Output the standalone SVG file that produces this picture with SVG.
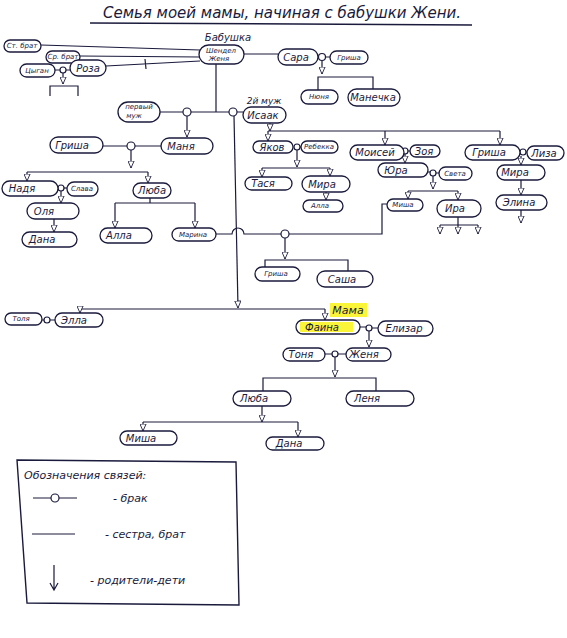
<svg xmlns="http://www.w3.org/2000/svg" width="567" height="638" viewBox="0 0 567 638">
<style>
.n{fill:#fff;stroke:#1a1a3c;stroke-width:1.3}
.t{font-family:"DejaVu Sans",sans-serif;font-style:italic;font-size:10px;fill:#1a1a3c;text-anchor:middle;dominant-baseline:central}
.s{font-size:7px}
.c{fill:none;stroke:#1a1a3c;stroke-width:1.2}
.a{fill:none;stroke:#1a1a3c;stroke-width:1.2;marker-end:url(#ar)}
.m{fill:#fff;stroke:#1a1a3c;stroke-width:1.2}
.lbl{font-family:"DejaVu Sans",sans-serif;font-style:italic;fill:#1a1a3c}
</style>
<defs>
<marker id="ar" viewBox="0 0 9 8" refX="8.5" refY="4" markerWidth="8" markerHeight="7" orient="auto" markerUnits="userSpaceOnUse">
<path d="M0.5,0.5 L8.5,4 L0.5,7.5 Z" fill="#fff" stroke="#1a1a3c" stroke-width="1"/>
</marker>
</defs>
<rect width="567" height="638" fill="#fff"/>
<text class="lbl" x="282" y="13" font-size="15" text-anchor="middle" dominant-baseline="central">Семья моей мамы, начиная с бабушки Жени.</text>
<path d="M90,23 L472,25" stroke="#1a1a3c" stroke-width="1.5" fill="none"/>

<g id="connectors">
<path class="c" d="M41,45 L200,50 M80,56 L200,57 M106,66 L200,61 M145,59 L146,69"/>
<path class="c" d="M55,70 H60 M66,70 H70"/><circle class="m" cx="63" cy="70" r="3"/>
<path class="a" d="M63,73 V84"/>
<path class="c" d="M50,96 V86 H78 V96"/>
<path class="c" d="M244,54 H278 M318,57 H319 M325,57 H330"/><circle class="m" cx="322" cy="57" r="3.5"/>
<path class="a" d="M322,61 V74"/>
<path class="c" d="M318,90 V77 H373 V89"/>
<path class="c" d="M216,64 V112 M160,112 H183 M191,112 H229 M237,112 H243"/>
<circle class="m" cx="187" cy="112" r="4"/><circle class="m" cx="233" cy="112" r="4"/>
<path class="a" d="M187,116 V137"/>
<path class="a" d="M234,116 L238,308"/>
<path class="c" d="M80,309 H325"/>
<path class="a" d="M80,309 V313"/><path class="a" d="M325,309 V320"/>
<path class="c" d="M103,146 H127 M135,146 H161"/><circle class="m" cx="131" cy="146" r="4"/>
<path class="a" d="M131,150 V168"/>
<path class="c" d="M27,172 H148"/><path class="a" d="M27,172 V181"/><path class="a" d="M148,172 V183"/>
<path class="c" d="M64,188 H67"/><circle class="m" cx="61" cy="188" r="3"/>
<path class="a" d="M61,191 V203"/>
<path class="a" d="M54,219 V232"/>
<path class="c" d="M150,198 V203 M115,203 H195"/><path class="a" d="M115,203 V228"/><path class="a" d="M195,203 V228"/>
<path class="c" d="M216,234 H232 A6,6 0 0 1 244,234 H281 M289,234 H382 V204 H387"/><circle class="m" cx="285" cy="234" r="4"/>
<path class="a" d="M285,238 V259"/>
<path class="c" d="M265,268 V260 H348 V271"/>
<path class="a" d="M270,123 V131"/>
<path class="c" d="M268,131 H500"/>
<path class="a" d="M268,131 V141"/><path class="a" d="M385,131 V145"/><path class="a" d="M500,131 V145"/>
<path class="c" d="M300,147 H301"/><circle class="m" cx="297" cy="147" r="3"/>
<path class="a" d="M297,150 V167"/>
<path class="c" d="M262,168 H330"/><path class="a" d="M262,168 V177"/><path class="a" d="M330,168 V176"/>
<path class="a" d="M326,192 V200"/>
<path class="c" d="M408,151 H410"/><circle class="m" cx="405" cy="151" r="3"/>
<path class="a" d="M405,154 V163"/>
<path class="c" d="M428,172 H430 M436,173 H439"/><circle class="m" cx="433" cy="173" r="3"/>
<path class="a" d="M433,176 V189"/>
<path class="c" d="M408,191 H458"/><path class="a" d="M408,191 V199"/><path class="a" d="M458,191 V200"/>
<path class="c" d="M458,217 V225 M440,225 H478"/>
<path class="a" d="M440,225 V234"/><path class="a" d="M458,225 V234"/><path class="a" d="M478,225 V234"/>
<path class="c" d="M526,152 H527"/><circle class="m" cx="523" cy="152" r="3"/>
<path class="a" d="M521,156 V165"/>
<path class="a" d="M521,180 V195"/>
<path class="a" d="M521,210 V223"/>
<path class="c" d="M42,320 H44 M50,320 H55"/><circle class="m" cx="47" cy="320" r="3"/>
<path class="c" d="M360,327 H366 M372,328 H378"/><circle class="m" cx="369" cy="328" r="3"/>
<path class="a" d="M369,331 V347"/>
<path class="c" d="M325,354 H332 M338,354 H346"/><circle class="m" cx="335" cy="354" r="3"/>
<path class="a" d="M335,357 V377"/>
<path class="c" d="M263,391 V378 H376 V391"/>
<path class="a" d="M262,406 V422"/>
<path class="c" d="M143,422 H298"/><path class="a" d="M143,422 V431"/><path class="a" d="M298,422 V437"/>
</g>

<g id="n-stbrat"><rect class="n" x="4" y="40" width="37" height="12" rx="6"/><text class="t s" x="22" y="46">Ст. брат</text></g>
<g id="n-srbrat"><rect class="n" x="46" y="51" width="34" height="12" rx="6"/><text class="t s" x="63" y="57">Ср. брат</text></g>
<g id="n-tsygan"><rect class="n" x="20" y="64" width="35" height="13" rx="6.5"/><text class="t s" x="37" y="70.5">Цыган</text></g>
<g id="n-roza"><rect class="n" x="70" y="60" width="36" height="16" rx="8"/><text class="t" x="88" y="68">Роза</text></g>
<g id="n-babushka"><text class="lbl" x="228" y="37" font-size="10" text-anchor="middle" dominant-baseline="central">Бабушка</text><rect class="n" x="199" y="45" width="45" height="19" rx="9.5"/><text class="t s" x="221" y="51" font-size="8">Шендел</text><text class="t s" x="219" y="59">Женя</text></g>
<g id="n-sara"><rect class="n" x="278" y="49" width="40" height="16" rx="8"/><text class="t" x="296" y="57">Сара</text></g>
<g id="n-grisha1"><rect class="n" x="330" y="51" width="38" height="13" rx="6.5"/><text class="t s" x="349" y="57.5" font-size="8">Гриша</text></g>
<g id="n-nyunya"><rect class="n" x="301" y="90" width="37" height="14" rx="7"/><text class="t s" x="319" y="97" font-size="8">Нюня</text></g>
<g id="n-manechka"><rect class="n" x="348" y="89" width="52" height="17" rx="8.5"/><text class="t" x="373" y="97.5">Манечка</text></g>
<g id="n-pervyi"><rect class="n" x="118" y="102" width="42" height="20" rx="10"/><text class="t s" x="139" y="107">первый</text><text class="t s" x="134" y="116">муж</text></g>
<g id="n-isaak"><text class="lbl" x="264" y="101" font-size="9" text-anchor="middle" dominant-baseline="central">2й муж</text><rect class="n" x="243" y="107" width="43" height="16" rx="8"/><text class="t" x="263" y="115">Исаак</text></g>
<g id="n-grisha2"><rect class="n" x="50" y="137" width="53" height="16" rx="8"/><text class="t" x="72" y="145">Гриша</text></g>
<g id="n-manya"><rect class="n" x="161" y="138" width="52" height="16" rx="8"/><text class="t" x="181" y="146">Маня</text></g>
<g id="n-nadya"><rect class="n" x="2" y="181" width="56" height="15" rx="7.5"/><text class="t" x="22" y="188.5">Надя</text></g>
<g id="n-slava"><rect class="n" x="67" y="182" width="31" height="14" rx="7"/><text class="t s" x="82" y="189" font-size="8">Слава</text></g>
<g id="n-lyuba1"><rect class="n" x="133" y="183" width="38" height="15" rx="7.5"/><text class="t" x="152" y="190.5">Люба</text></g>
<g id="n-olya"><rect class="n" x="27" y="203" width="52" height="16" rx="8"/><text class="t" x="44" y="211">Оля</text></g>
<g id="n-dana1"><rect class="n" x="22" y="232" width="55" height="15" rx="7.5"/><text class="t" x="42" y="239.5">Дана</text></g>
<g id="n-alla"><rect class="n" x="100" y="228" width="52" height="15" rx="7.5"/><text class="t" x="119" y="235.5">Алла</text></g>
<g id="n-marina"><rect class="n" x="172" y="228" width="44" height="13" rx="6.5"/><text class="t s" x="193" y="234.5" font-size="8.5">Марина</text></g>
<g id="n-yakov"><rect class="n" x="253" y="141" width="40" height="12" rx="6"/><text class="t" x="272" y="147">Яков</text></g>
<g id="n-rebekka"><rect class="n" x="301" y="141" width="37" height="12" rx="6"/><text class="t s" x="319" y="147">Ребекка</text></g>
<g id="n-tasya"><rect class="n" x="245" y="177" width="47" height="13" rx="6.5"/><text class="t" x="263" y="183.5">Тася</text></g>
<g id="n-mira1"><rect class="n" x="302" y="176" width="48" height="16" rx="8"/><text class="t" x="322" y="184">Мира</text></g>
<g id="n-alla2"><rect class="n" x="303" y="200" width="40" height="12" rx="6"/><text class="t s" x="320" y="206" font-size="8">Алла</text></g>
<g id="n-moisei"><rect class="n" x="350" y="145" width="54" height="15" rx="7.5"/><text class="t" x="375" y="152.5">Моисей</text></g>
<g id="n-zoya"><rect class="n" x="410" y="145" width="30" height="12" rx="6"/><text class="t" x="424" y="151">Зоя</text></g>
<g id="n-yura"><rect class="n" x="378" y="163" width="50" height="14" rx="7"/><text class="t" x="396" y="170">Юра</text></g>
<g id="n-sveta"><rect class="n" x="439" y="167" width="33" height="13" rx="6.5"/><text class="t s" x="455" y="173.5" font-size="8.5">Света</text></g>
<g id="n-misha1"><rect class="n" x="387" y="199" width="36" height="12" rx="6"/><text class="t s" x="403" y="205" font-size="8">Миша</text></g>
<g id="n-ira"><rect class="n" x="437" y="200" width="44" height="17" rx="8.5"/><text class="t" x="455" y="208.5">Ира</text></g>
<g id="n-grisha3"><rect class="n" x="465" y="145" width="55" height="15" rx="7.5"/><text class="t" x="489" y="152.5">Гриша</text></g>
<g id="n-liza"><rect class="n" x="527" y="146" width="37" height="14" rx="7"/><text class="t" x="544" y="153">Лиза</text></g>
<g id="n-mira2"><rect class="n" x="497" y="165" width="48" height="15" rx="7.5"/><text class="t" x="515" y="172.5">Мира</text></g>
<g id="n-elina"><rect class="n" x="496" y="195" width="51" height="15" rx="7.5"/><text class="t" x="519" y="202.5">Элина</text></g>
<g id="n-grisha4"><rect class="n" x="255" y="267" width="45" height="14" rx="7"/><text class="t s" x="276" y="274" font-size="8.5">Гриша</text></g>
<g id="n-sasha"><rect class="n" x="317" y="271" width="56" height="16" rx="8"/><text class="t" x="342" y="279">Саша</text></g>
<g id="n-tolya"><rect class="n" x="5" y="313" width="37" height="12" rx="6"/><text class="t s" x="21" y="319" font-size="8.5">Толя</text></g>
<g id="n-ella"><rect class="n" x="55" y="313" width="48" height="14" rx="7"/><text class="t" x="74" y="320">Элла</text></g>
<g id="n-faina"><rect x="330" y="303" width="37" height="14" fill="#fbf53a"/><text class="lbl" x="348" y="310" font-size="11" text-anchor="middle" dominant-baseline="central">Мама</text><rect class="n" x="296" y="320" width="64" height="14" rx="7"/><rect x="300" y="322" width="53" height="10" fill="#fbf53a"/><text class="t" x="322" y="327">Фаина</text></g>
<g id="n-elizar"><rect class="n" x="378" y="321" width="55" height="15" rx="7.5"/><text class="t" x="404" y="328.5">Елизар</text></g>
<g id="n-tonya"><rect class="n" x="283" y="348" width="42" height="13" rx="6.5"/><text class="t" x="301" y="354.5">Тоня</text></g>
<g id="n-zhenya"><rect class="n" x="346" y="348" width="45" height="13" rx="6.5"/><text class="t" x="364" y="354.5">Женя</text></g>
<g id="n-lyuba2"><rect class="n" x="233" y="391" width="58" height="15" rx="7.5"/><text class="t" x="254" y="398.5">Люба</text></g>
<g id="n-lenya"><rect class="n" x="346" y="391" width="68" height="15" rx="7.5"/><text class="t" x="367" y="398.5">Леня</text></g>
<g id="n-misha2"><rect class="n" x="120" y="431" width="57" height="14" rx="7"/><text class="t" x="141" y="438">Миша</text></g>
<g id="n-dana2"><rect class="n" x="266" y="437" width="58" height="13" rx="6.5"/><text class="t" x="289" y="443.5">Дана</text></g>

<g id="legend">
<path d="M17,460 L236,462 L239,605 L27,603 Z" fill="none" stroke="#1a1a3c" stroke-width="1.4"/>
<text class="lbl" x="24" y="475" font-size="11" dominant-baseline="central">Обозначения связей:</text>
<path class="c" d="M33,498 H51 M59,498 H77"/><circle class="m" cx="55" cy="498" r="4"/>
<text class="lbl" x="113" y="498" font-size="11" dominant-baseline="central">- брак</text>
<path class="c" d="M32,534 H75"/>
<text class="lbl" x="105" y="534" font-size="11" dominant-baseline="central">- сестра, брат</text>
<path class="c" d="M54,565 V590 M50,583 L54,590 L58,583"/>
<text class="lbl" x="90" y="580" font-size="11" dominant-baseline="central">- родители-дети</text>
</g>
</svg>
